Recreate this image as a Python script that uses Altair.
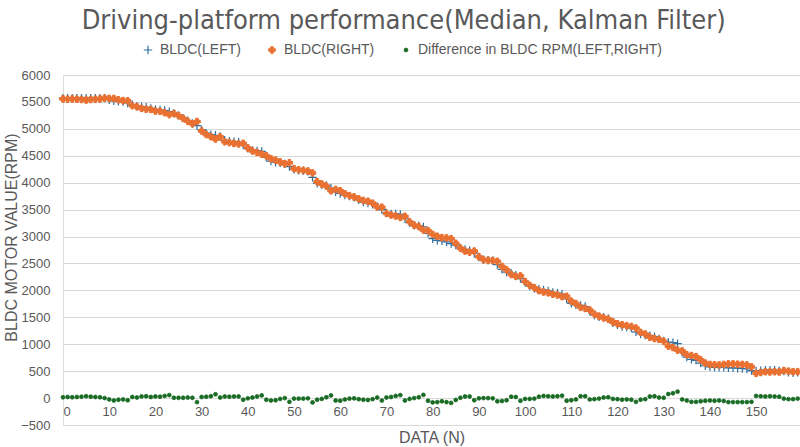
import altair as alt
import pandas as pd

N = list(range(160))

LEFT = [5570, 5570, 5570, 5570, 5570, 5570, 5570, 5570, 5570, 5570,
        5540, 5520, 5510, 5500, 5480, 5450, 5420, 5410, 5400, 5380,
        5360, 5350, 5340, 5320, 5290, 5250, 5200, 5150, 5100, 5060,
        4980, 4920, 4890, 4880, 4860, 4790, 4770, 4760, 4750, 4700,
        4640, 4600, 4590, 4580, 4470, 4400, 4380, 4370, 4350, 4300,
        4250, 4230, 4220, 4210, 4100, 3990, 3960, 3950, 3900, 3830,
        3800, 3770, 3750, 3730, 3680, 3640, 3620, 3600, 3560, 3500,
        3440, 3420, 3420, 3410, 3330, 3260, 3210, 3200, 3180, 3060,
        2960, 2930, 2920, 2900, 2870, 2840, 2790, 2760, 2740, 2690,
        2620, 2570, 2560, 2550, 2480, 2390, 2340, 2320, 2280, 2220,
        2150, 2080, 2040, 2020, 2010, 1990, 1960, 1950, 1930, 1840,
        1760, 1730, 1720, 1700, 1610, 1540, 1510, 1500, 1480, 1400,
        1360, 1330, 1320, 1300, 1230, 1190, 1170, 1160, 1140, 1100,
        1060, 1040, 1030, 1010, 850, 760, 720, 700, 650, 600,
        580, 570, 570, 570, 560, 560, 555, 550, 540, 510,
        500, 510, 520, 520, 520, 510, 500, 480, 470, 480]

RIGHT = [5555, 5550, 5555, 5550, 5545, 5535, 5545, 5550, 5555, 5570,
         5565, 5565, 5540, 5525, 5520, 5430, 5410, 5380, 5365, 5360,
         5330, 5325, 5300, 5265, 5285, 5245, 5195, 5140, 5095, 5135,
         4960, 4895, 4855, 4810, 4850, 4760, 4745, 4730, 4720, 4730,
         4645, 4590, 4560, 4530, 4500, 4445, 4420, 4385, 4350, 4370,
         4260, 4240, 4230, 4215, 4180, 4020, 3975, 3935, 3850, 3875,
         3850, 3795, 3760, 3735, 3700, 3670, 3655, 3620, 3550, 3545,
         3430, 3400, 3380, 3355, 3375, 3275, 3210, 3185, 3120, 3110,
         3040, 3005, 2980, 2975, 2960, 2875, 2785, 2730, 2710, 2730,
         2625, 2570, 2560, 2555, 2540, 2445, 2380, 2295, 2260, 2270,
         2165, 2095, 2050, 1995, 1970, 1955, 1930, 1915, 1885, 1890,
         1800, 1755, 1685, 1665, 1635, 1560, 1520, 1490, 1465, 1415,
         1380, 1360, 1345, 1330, 1300, 1220, 1190, 1130, 1105, 1090,
         1055, 965, 940, 890, 875, 805, 790, 770, 710, 650,
         625, 620, 615, 625, 635, 635, 630, 625, 615, 580,
         460, 475, 490, 485, 490, 485, 510, 500, 490, 490]

DIFF = [15, 20, 15, 20, 25, 35, 25, 20, 15, 0,
        -25, -45, -30, -25, -40, 20, 10, 30, 35, 20,
        30, 25, 40, 55, 5, 5, 5, 10, 5, -75,
        20, 25, 35, 70, 10, 30, 25, 30, 30, -30,
        -5, 10, 30, 50, -30, -45, -40, -15, 0, -70,
        -10, -10, -10, -5, -80, -30, -15, 15, 50, -45,
        -50, -25, -10, -5, -20, -30, -35, -20, 10, -45,
        10, 20, 40, 55, -45, -15, 0, 15, 60, -50,
        -80, -75, -60, -75, -90, -35, 5, 30, 30, -40,
        -5, 0, 0, -5, -60, -55, -40, 25, 20, -50,
        -15, -15, -10, 25, 40, 35, 30, 35, 45, -50,
        -40, -25, 35, 35, -25, -20, -10, 10, 15, -15,
        -20, -30, -25, -30, -70, -30, -20, 30, 35, 10,
        5, 75, 90, 120, -25, -45, -70, -70, -60, -50,
        -45, -50, -45, -55, -75, -75, -75, -75, -75, -70,
        40, 35, 30, 35, 30, 25, -10, -20, -20, -10]

SERIES = ["BLDC(LEFT)", "BLDC(RIGHT)", "Difference in BLDC RPM(LEFT,RIGHT)"]
COLORS = ["#2F6FA0", "#E97132", "#196B24"]
FILLS = ["rgba(0,0,0,0)", "#E97132", "#196B24"]
PLUS = "M-1,0L1,0M0,-1L0,1"
SHAPES = [PLUS, "cross", "circle"]
SIZES = [70, 15, 20]
STROKES = [1.2, 0.8, 0.8]
Y_TICKS = list(range(-500, 6001, 500))
X_TICKS = list(range(0, 151, 10))

rows = []
for s, vals in zip(SERIES, [LEFT, RIGHT, DIFF]):
    for n, v in zip(N, vals):
        rows.append({"series": s, "n": n, "value": v})
df = pd.DataFrame(rows)

GRAY = "#595959"
FONT = "Liberation Sans"

legend = alt.Legend(
    title=None, orient="none", legendX=78, legendY=-32, direction="horizontal",
    labelFont=FONT, labelFontSize=14, labelColor=GRAY, columnPadding=24,
    labelOffset=5, labelLimit=400,
)

chart = alt.Chart(df).mark_point(opacity=1).encode(
    x=alt.X("n:Q",
            scale=alt.Scale(domain=[0, 159.5], nice=False, zero=False),
            axis=alt.Axis(values=X_TICKS, title="DATA (N)", grid=False, domain=False,
                          ticks=False, offset=-27, labelPadding=7, labelFont=FONT,
                          labelFontSize=13, labelColor=GRAY, titleFont=FONT,
                          titleFontSize=16, titleColor=GRAY, titleFontWeight="normal",
                          titlePadding=11, format="d")),
    y=alt.Y("value:Q",
            scale=alt.Scale(domain=[-500, 6000], nice=False),
            axis=alt.Axis(values=Y_TICKS, title="BLDC MOTOR VALUE(RPM)", grid=True,
                          gridColor="#D9D9D9", gridWidth=1, domain=False, ticks=False,
                          labelPadding=13, labelFont=FONT, labelFontSize=13,
                          labelColor=GRAY, titleFont=FONT, titleFontSize=16,
                          titleColor=GRAY, titleFontWeight="normal",
                          titleX=-52, titleY=162, titleAngle=270,
                          titleAlign="center", titleBaseline="middle",
                          format="d")),
    stroke=alt.Stroke("series:N", scale=alt.Scale(domain=SERIES, range=COLORS), legend=legend),
    fill=alt.Fill("series:N", scale=alt.Scale(domain=SERIES, range=FILLS), legend=legend),
    shape=alt.Shape("series:N", scale=alt.Scale(domain=SERIES, range=SHAPES), legend=legend),
    size=alt.Size("series:N", scale=alt.Scale(domain=SERIES, range=SIZES), legend=legend),
    strokeWidth=alt.StrokeWidth("series:N", scale=alt.Scale(domain=SERIES, range=STROKES), legend=legend),
).properties(
    width=737, height=350,
    title=alt.TitleParams(
        text="Driving-platform performance(Median, Kalman Filter)",
        font="DejaVu Sans Condensed, Roboto, sans-serif", fontSize=27,
        fontWeight="normal", color=GRAY,
        anchor="middle", frame="bounds", offset=8,
    ),
    autosize="none",
    padding={"left": 63, "top": 75, "right": 0, "bottom": 22},
).configure_view(stroke=None).configure(background="white")

chart.save("out.html", embed_options={"renderer": "svg", "actions": False})
